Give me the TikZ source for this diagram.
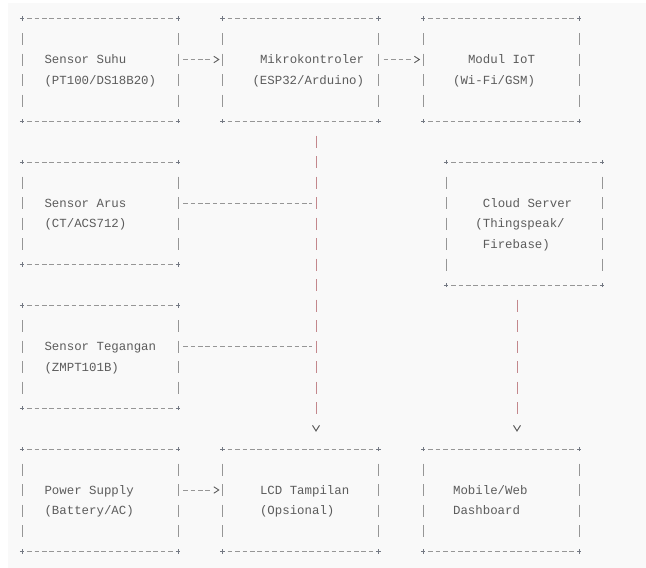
\documentclass[tikz,border=0pt]{standalone}
\usepackage{fontspec}
\setmonofont{Liberation Mono}
\usetikzlibrary{calc}
\usetikzlibrary{arrows.meta}

\definecolor{txtgray}{RGB}{92,92,92}
\definecolor{rulegray}{RGB}{150,150,150}
\definecolor{cornergray}{RGB}{115,120,130}
\definecolor{busrose}{RGB}{195,135,140}
\definecolor{panel}{RGB}{249,249,249}

\begin{document}
\begin{tikzpicture}[x=1pt,y=-1pt,
  box/.style={rectangle,inner sep=0pt,outer sep=0pt,minimum width=156pt,minimum height=102.5pt},
  lbl/.style={anchor=base west,inner sep=0pt,text=txtgray,font=\ttfamily\fontsize{12.4}{15}\selectfont},
  hdash/.style={rulegray,line width=0.9pt,dash pattern=on 4.6pt off 2.83pt},
  vdash/.style={rulegray,line width=0.9pt,dash pattern=on 12pt off 8.5pt},
  corner/.style={cornergray,line width=0.8pt},
  hflow/.style={rulegray,line width=0.9pt,-{Straight Barb[length=5pt,width=6.5pt,color=txtgray]},
    dash pattern=on 4.6pt off 2.83pt on 4.6pt off 2.83pt on 4.6pt off 2.83pt on 4.6pt off 30pt},
  vtip/.style={busrose,line width=1pt,-{Straight Barb[length=5.5pt,width=7pt,color=txtgray]}},
  longbus/.style={vtip,dash pattern=on 12pt off 8.5pt on 12pt off 8.5pt on 12pt off 8.5pt
    on 12pt off 8.5pt on 12pt off 8.5pt on 12pt off 8.5pt on 12pt off 8.5pt on 12pt off 8.5pt
    on 12pt off 8.5pt on 12pt off 8.5pt on 12pt off 8.5pt on 12pt off 8.5pt on 12pt off 8.5pt
    on 12pt off 60pt},
  shortbus/.style={vtip,dash pattern=on 12pt off 8.5pt on 12pt off 8.5pt on 12pt off 8.5pt
    on 12pt off 8.5pt on 12pt off 8.5pt on 12pt off 60pt}]
\useasboundingbox (0,0) rectangle (646,568);
\fill[white] (0,0) rectangle (646,568);
\fill[panel] (8,3) rectangle (646,568);

\node[box] (suhu) at (100,69.75) {};
\node[box] (mcu) at (300.6,69.75) {};
\node[box] (iot) at (501.2,69.75) {};
\node[box] (arus) at (100,213.25) {};
\node[box,minimum height=123pt] (cloud) at (524,223.5) {};
\node[box] (teg) at (100,356.75) {};
\node[box] (power) at (100,500.25) {};
\node[box] (lcd) at (300.6,500.25) {};
\node[box] (mobile) at (501.2,500.25) {};

\foreach \b in {suhu,mcu,iot,arus,cloud,teg,power,lcd,mobile}{
  \draw[hdash] ([xshift=5.1pt]\b.north west) -- ([xshift=-5.1pt]\b.north east);
  \draw[hdash] ([xshift=5.1pt]\b.south west) -- ([xshift=-5.1pt]\b.south east);
  \draw[vdash] ([yshift=-14.5pt]\b.north west) -- ([yshift=14.5pt]\b.south west);
  \draw[vdash] ([yshift=-14.5pt]\b.north east) -- ([yshift=14.5pt]\b.south east);
  \foreach \c in {north west,north east,south west,south east}
    \draw[corner] ([xshift=-2.2pt]\b.\c) -- ([xshift=2.2pt]\b.\c)
      ([yshift=-2.2pt]\b.\c) -- ([yshift=2.2pt]\b.\c);
}

\node[lbl] (suhu-1) at (44.3,63.8) {Sensor Suhu};
\node[lbl] (suhu-2) at (44.3,84.3) {(PT100/DS18B20)};
\node[lbl] (mcu-1) at (259.8,63.8) {Mikrokontroler};
\node[lbl] (mcu-2) at (252.3,84.3) {(ESP32/Arduino)};
\node[lbl] (iot-1) at (467.8,63.8) {Modul IoT};
\node[lbl] (iot-2) at (452.9,84.3) {(Wi-Fi/GSM)};
\node[lbl] (arus-1) at (44.3,207.3) {Sensor Arus};
\node[lbl] (arus-2) at (44.3,227.8) {(CT/ACS712)};
\node[lbl] (cloud-1) at (482.7,207.3) {Cloud Server};
\node[lbl] (cloud-2) at (475.2,227.8) {(Thingspeak/};
\node[lbl] (cloud-3) at (482.7,248.3) {Firebase)};
\node[lbl] (teg-1) at (44.3,350.8) {Sensor Tegangan};
\node[lbl] (teg-2) at (44.3,371.3) {(ZMPT101B)};
\node[lbl] (power-1) at (44.3,494.3) {Power Supply};
\node[lbl] (power-2) at (44.3,514.8) {(Battery/AC)};
\node[lbl] (lcd-1) at (259.8,494.3) {LCD Tampilan};
\node[lbl] (lcd-2) at (259.8,514.8) {(Opsional)};
\node[lbl] (mobile-1) at (452.9,494.3) {Mobile/Web};
\node[lbl] (mobile-2) at (452.9,514.8) {Dashboard};

\coordinate (bus-arus) at ($(mcu.south)+(15.4,82)$);
\coordinate (bus-teg) at ($(mcu.south)+(15.4,225.5)$);

\draw[hflow] ($(suhu.east)+(5.1,-10.25)$) -- ($(mcu.west)+(-3,-10.25)$);
\draw[hflow] ($(mcu.east)+(5.1,-10.25)$) -- ($(iot.west)+(-3,-10.25)$);
\draw[hflow] ($(power.east)+(5.1,-10.25)$) -- ($(lcd.west)+(-3,-10.25)$);
\draw[hdash] ($(arus.east)+(5.1,-10.25)$) -- ($(bus-arus)+(-4,0)$);
\draw[hdash] ($(teg.east)+(5.1,-10.25)$) -- ($(bus-teg)+(-4,0)$);
\draw[longbus] ($(mcu.south)+(15.4,14.5)$) -- ($(lcd.north)+(15.4,-17.2)$);
\draw[shortbus] ($(cloud.south)+(-7,14.5)$) -- ($(mobile.north)+(15.8,-17.2)$);
\end{tikzpicture}
\end{document}
